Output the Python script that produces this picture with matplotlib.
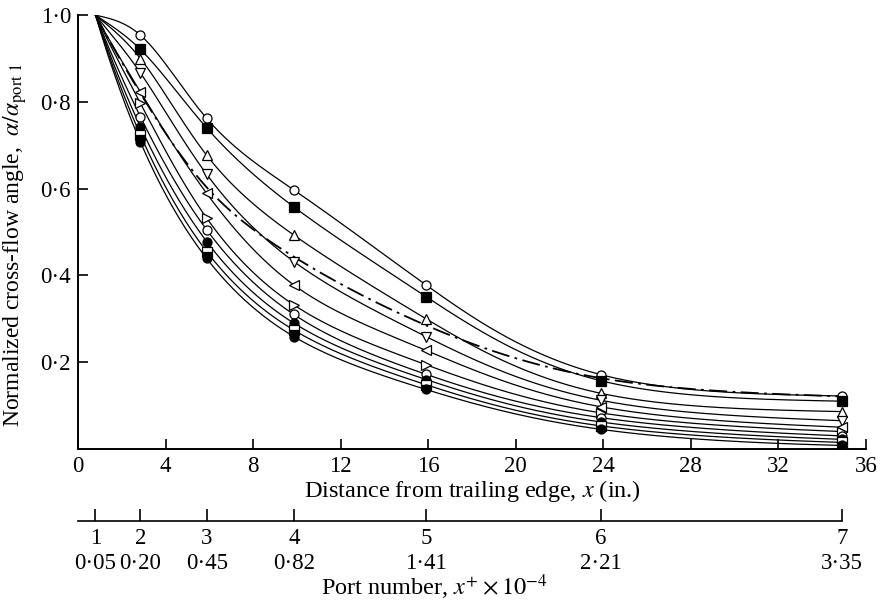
import numpy as np
import matplotlib
matplotlib.use("Agg")
import matplotlib.pyplot as plt
from matplotlib.transforms import blended_transform_factory

plt.rcParams["font.family"] = ["Liberation Serif", "DejaVu Serif"]
plt.rcParams["mathtext.fontset"] = "stix"

# port positions along the x axis (in.)
port_x = [0.8, 2.85, 5.88, 9.86, 15.9, 23.9, 34.9]
port_num = ["1", "2", "3", "4", "5", "6", "7"]
port_xplus = ["0·05", "0·20", "0·45", "0·82", "1·41", "2·21", "3·35"]

# normalized cross-flow angle at each port, one list per run
run1 = [1.0, 0.954, 0.762, 0.597, 0.378, 0.171, 0.122]
run2 = [1.0, 0.921, 0.740, 0.558, 0.351, 0.157, 0.110]
run3 = [1.0, 0.900, 0.677, 0.493, 0.300, 0.128, 0.086]
run4 = [1.0, 0.867, 0.633, 0.432, 0.259, 0.112, 0.065]
run5 = [1.0, 0.823, 0.589, 0.378, 0.227, 0.097, 0.050]
run6 = [1.0, 0.797, 0.532, 0.332, 0.194, 0.083, 0.040]
run7 = [1.0, 0.766, 0.505, 0.310, 0.172, 0.072, 0.030]
run8 = [1.0, 0.743, 0.478, 0.290, 0.160, 0.062, 0.022]
run9 = [1.0, 0.724, 0.455, 0.274, 0.148, 0.053, 0.015]
run10 = [1.0, 0.708, 0.439, 0.259, 0.137, 0.045, 0.008]
mean_run = [1.0, 0.820, 0.603, 0.443, 0.285, 0.163, 0.121]

runs = [run1, run2, run3, run4, run5, run6, run7, run8, run9, run10]
markers = ["o", "s", "^", "v", "<", ">", "o", "o", "s", "o"]
faces = ["white", "black", "white", "white", "white", "white", "white", "black", "half", "black"]


def smooth(xk, yk, xs):
    # natural cubic spline through log(y), drawn back in linear units
    xk = np.asarray(xk, float)
    y = np.log(np.asarray(yk, float))
    n = len(xk)
    h = np.diff(xk)
    A = np.zeros((n, n))
    b = np.zeros(n)
    A[0, 0] = 1
    A[-1, -1] = 1
    for i in range(1, n - 1):
        A[i, i - 1] = h[i - 1]
        A[i, i] = 2 * (h[i - 1] + h[i])
        A[i, i + 1] = h[i]
        b[i] = 6 * ((y[i + 1] - y[i]) / h[i] - (y[i] - y[i - 1]) / h[i - 1])
    M = np.linalg.solve(A, b)
    i = np.clip(np.searchsorted(xk, xs) - 1, 0, n - 2)
    hi = h[i]
    a = xk[i + 1] - xs
    c = xs - xk[i]
    s = (M[i] * a**3 / (6 * hi) + M[i + 1] * c**3 / (6 * hi)
         + (y[i] / hi - M[i] * hi / 6) * a + (y[i + 1] / hi - M[i + 1] * hi / 6) * c)
    return np.exp(s)


fig = plt.figure(figsize=(8.8, 6.05), dpi=100)
ax = fig.add_axes([0.0886, 0.258, 0.8955, 0.717])

xs = np.linspace(port_x[0], port_x[-1], 500)
for ys, mk, fc in zip(runs, markers, faces):
    ax.plot(xs, smooth(port_x, ys, xs), color="black", lw=0.9, zorder=2)
    if fc == "half":
        ax.plot(port_x[1:], ys[1:], ls="none", marker=mk, ms=6.5, mew=0.9,
                mec="black", mfc="black", fillstyle="bottom",
                markerfacecoloralt="white", zorder=3)
    else:
        ax.plot(port_x[1:], ys[1:], ls="none", marker=mk, ms=6.5, mew=0.9,
                mec="black", mfc=fc, zorder=3)

ax.plot(xs, smooth(port_x, mean_run, xs), color="black", lw=1.3,
        ls=(0, (10, 3, 1.5, 3)), zorder=2)

ax.set_xlim(0, 36)
ax.set_ylim(0, 1.0)
ax.set_xticks(range(0, 37, 4))
ax.set_yticks([0.2, 0.4, 0.6, 0.8, 1.0])
ax.set_yticklabels(["0·2", "0·4", "0·6", "0·8", "1·0"])
ax.spines["top"].set_visible(False)
ax.spines["right"].set_visible(False)
ax.spines["left"].set_linewidth(1.4)
ax.spines["bottom"].set_linewidth(1.4)
ax.tick_params(direction="in", length=7, width=1.2, labelsize=16.5, pad=5)
ax.set_xlabel("Distance from trailing edge, $x$ (in.)", fontsize=17.5, labelpad=1)
ax.set_ylabel(r"Normalized cross-flow angle,  $\alpha/\alpha_{\mathrm{port\ 1}}$",
              fontsize=17)
ax.yaxis.set_label_coords(-0.062, 0.47)

# port number scale below the main axis
ax2 = fig.add_axes([0.0886, 0.139, 0.8955, 0.0001])
ax2.set_xlim(0, 36)
ax2.set_yticks([])
for side in ["top", "right", "left"]:
    ax2.spines[side].set_visible(False)
ax2.spines["bottom"].set_bounds(0, port_x[-1])
ax2.spines["bottom"].set_linewidth(1.2)
ax2.set_xticks(port_x)
ax2.set_xticklabels(port_num)
ax2.tick_params(direction="in", length=9, width=1.2, labelsize=16.5, pad=5)
trans = blended_transform_factory(ax2.transData, fig.transFigure)
for px, val in zip(port_x, port_xplus):
    ax2.text(px, 0.068, val, transform=trans, fontsize=16.5,
             ha="center", va="center")
ax2.text(16.3, 0.029, r"Port number, $x^{+}\times10^{-4}$", transform=trans,
         fontsize=17.5, ha="center", va="center")

fig.savefig("out.png", dpi=100)
